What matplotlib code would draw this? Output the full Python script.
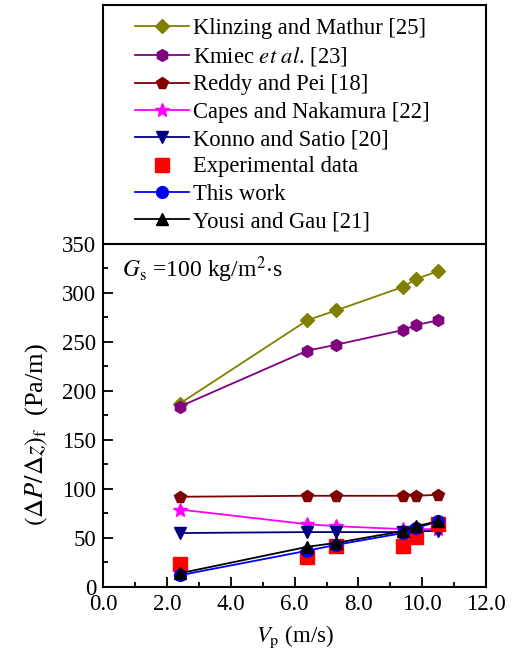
import numpy as np
import matplotlib
matplotlib.use('Agg')
import matplotlib.pyplot as plt

plt.rcParams['font.family'] = ['Liberation Serif', 'DejaVu Serif']
plt.rcParams['mathtext.fontset'] = 'stix'

# gas velocity values (m/s)
vp = [2.4, 6.4, 7.3, 9.4, 9.8, 10.5]

klinzing = [187, 272, 282, 306, 314, 322]
kmiec = [184, 241, 247, 262, 267, 272]
reddy = [92, 93, 93, 93, 93, 94]
capes = [79, 64, 62, 59, 59, 59]
konno = [55, 56, 56, 56, 57, 57]
experiment = [23, 31, 42, 42, 51, 64]
this_work = [12, 37, 43, 55, 60, 67]
yousi = [14, 41, 45, 57, 62, 67]

fig = plt.figure(figsize=(5.12, 6.61), dpi=100)
ax = fig.add_axes([103.3/512, 74/661, (486-103.3)/512, 582/661])

ax.plot(vp, klinzing, 'D-', color='#808000', ms=7.5, lw=1.3, label='Klinzing and Mathur [25]')
ax.plot(vp, kmiec, 'h-', color='#800080', ms=8.5, lw=1.3, label=r'Kmiec $\it{et\ al}$. [23]')
ax.plot(vp, reddy, 'p-', color='#800000', ms=8.5, lw=1.3, label='Reddy and Pei [18]')
ax.plot(vp, capes, '*-', color='#FF00FF', ms=10, lw=1.3, label='Capes and Nakamura [22]')
ax.plot(vp, konno, 'v-', color='#000080', ms=8.5, lw=1.3, label='Konno and Satio [20]')
ax.plot(vp, experiment, 's', color='#FF0000', ms=9.5, lw=0, label='Experimental data')
ax.plot(vp, this_work, 'o-', color='#0000FF', ms=8.5, lw=1.3, label='This work')
ax.plot(vp, yousi, '^-', color='#000000', ms=8.5, lw=1.3, label='Yousi and Gau [21]')

ax.axhline(350, color='black', lw=1.5)

ax.set_xlim(0, 12)
ax.set_ylim(0, 593.4)
ax.set_xticks(np.arange(0, 12.1, 2))
ax.set_xticks(np.arange(1, 12, 2), minor=True)
ax.set_xticklabels(['%.1f' % v for v in np.arange(0, 12.1, 2)])
ax.set_yticks(np.arange(0, 351, 50))
ax.set_yticks(np.arange(25, 350, 50), minor=True)

ax.tick_params(which='both', direction='in', labelsize=16.5, width=1.3)
ax.tick_params(which='major', length=7)
ax.tick_params(which='minor', length=3.5)
ax.tick_params(axis='x', pad=5)
ax.tick_params(axis='y', pad=5)
for s in ax.spines.values():
    s.set_linewidth(1.5)

ax.set_xlabel(r'$V_{\rm p}$ (m/s)', fontsize=16.5, labelpad=6)
ax.set_ylabel(r'$(\Delta P/\Delta z)_{\rm f}$  (Pa/m)', fontsize=19)
ax.yaxis.set_label_coords(-0.14, 0.262)

ax.text(0.05, 0.533, r'$G_{\rm s}$ =100 kg/m$^2$$\cdot$s', transform=ax.transAxes,
        fontsize=17, va='baseline', ha='left')

ax.legend(loc='upper left', bbox_to_anchor=(0.083, 0.978), frameon=False,
          fontsize=16.3, handlelength=2.4, handletextpad=0.15, labelspacing=0.28,
          borderpad=0, borderaxespad=0, numpoints=1)

fig.savefig('out.png', dpi=100)
